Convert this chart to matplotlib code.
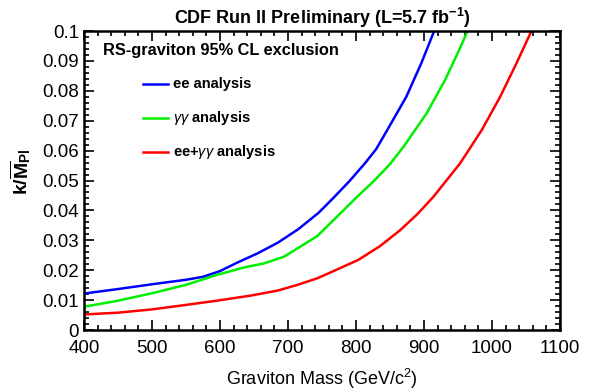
import matplotlib
matplotlib.use("Agg")
import matplotlib.pyplot as plt
from matplotlib.ticker import MultipleLocator
from matplotlib.lines import Line2D

plt.rcParams['font.family'] = ['Liberation Sans', 'DejaVu Sans']
plt.rcParams['mathtext.fontset'] = 'custom'
plt.rcParams['mathtext.rm'] = 'Liberation Sans'
plt.rcParams['mathtext.bf'] = 'Liberation Sans:bold'
plt.rcParams['mathtext.it'] = 'Liberation Sans:italic'

# graviton mass (GeV/c^2) vs k/Mpl limit
mass_ee = [400, 450, 500, 550, 575, 600, 625, 655, 685, 715, 745, 766,
           790, 813, 830, 845, 874, 896, 915]
k_ee = [0.0122, 0.0137, 0.0153, 0.0168, 0.0178, 0.0197, 0.0225, 0.0256,
        0.0292, 0.0337, 0.0392, 0.0440, 0.0497, 0.0557, 0.0606, 0.0665,
        0.0780, 0.0892, 0.1]

mass_gg = [400, 450, 500, 550, 595, 635, 665, 694, 714, 743, 777, 800, 828,
           850, 870, 904, 931, 954, 964]
k_gg = [0.0078, 0.0098, 0.0123, 0.0151, 0.0184, 0.0209, 0.0223, 0.0245,
        0.0273, 0.0314, 0.0390, 0.0442, 0.0502, 0.0555, 0.0613, 0.0725,
        0.0836, 0.0948, 0.1]

mass_comb = [400, 450, 500, 550, 595, 645, 685, 714, 743, 765, 803, 835,
             865, 890, 914, 953, 985, 1012, 1036, 1058]
k_comb = [0.0052, 0.0058, 0.0069, 0.0084, 0.0098, 0.0115, 0.0132, 0.0151,
          0.0173, 0.0195, 0.0234, 0.0280, 0.0334, 0.0387, 0.0446, 0.0557,
          0.0669, 0.0780, 0.0892, 0.1]

labels = ["ee analysis", r"$\gamma\gamma$ analysis", r"ee+$\gamma\gamma$ analysis"]
colors = ["#0000ff", "#00ee00", "#ff0000"]

fig = plt.figure(figsize=(6.05, 3.9), dpi=100)
ax = fig.add_axes([0.1388, 0.1538, 0.7868, 0.7667])

for m, k, c in zip([mass_ee, mass_gg, mass_comb], [k_ee, k_gg, k_comb], colors):
    ax.plot(m, k, color=c, lw=1.8, solid_capstyle='butt', solid_joinstyle='round')

ax.set_xlim(400, 1100)
ax.set_ylim(0, 0.1)
ax.xaxis.set_major_locator(MultipleLocator(100))
ax.xaxis.set_minor_locator(MultipleLocator(20))
ax.yaxis.set_minor_locator(MultipleLocator(0.002))
ax.set_yticks([0, 0.01, 0.02, 0.03, 0.04, 0.05, 0.06, 0.07, 0.08, 0.09, 0.1])
ax.set_yticklabels(["0", "0.01", "0.02", "0.03", "0.04", "0.05", "0.06",
                    "0.07", "0.08", "0.09", "0.1"])
ax.tick_params(which='both', direction='in', top=True, right=True,
               labelsize=13.5, width=1.2)
ax.tick_params(axis='x', pad=7)
ax.tick_params(which='major', length=7)
ax.tick_params(which='minor', length=3.5)
for s in ax.spines.values():
    s.set_linewidth(1.8)

ax.set_xlabel(r"Graviton Mass (GeV/c$^{2}$)", fontsize=13)
ax.xaxis.set_label_coords(0.5, -0.125)
ax.set_ylabel(r"$\mathbf{k/\overline{M}_{Pl}}$", fontsize=14)
ax.yaxis.set_label_coords(-0.108, 0.53)
ax.set_title(r"CDF Run II Preliminary (L=5.7 fb$^{\mathbf{-1}}$)",
             fontsize=13, fontweight='bold', pad=5)

ax.text(0.04, 0.936, "RS-graviton 95% CL exclusion", transform=ax.transAxes,
        fontsize=11.8, fontweight='bold', va='center')
for i, (lab, c) in enumerate(zip(labels, colors)):
    yy = 0.823 - i * 0.114
    ax.add_line(Line2D([0.124, 0.176], [yy, yy], transform=ax.transAxes,
                       color=c, lw=1.8))
    ax.text(0.188, yy, lab, transform=ax.transAxes, fontsize=10.5,
            fontweight='bold', va='center')

fig.savefig("out.png", dpi=100)
